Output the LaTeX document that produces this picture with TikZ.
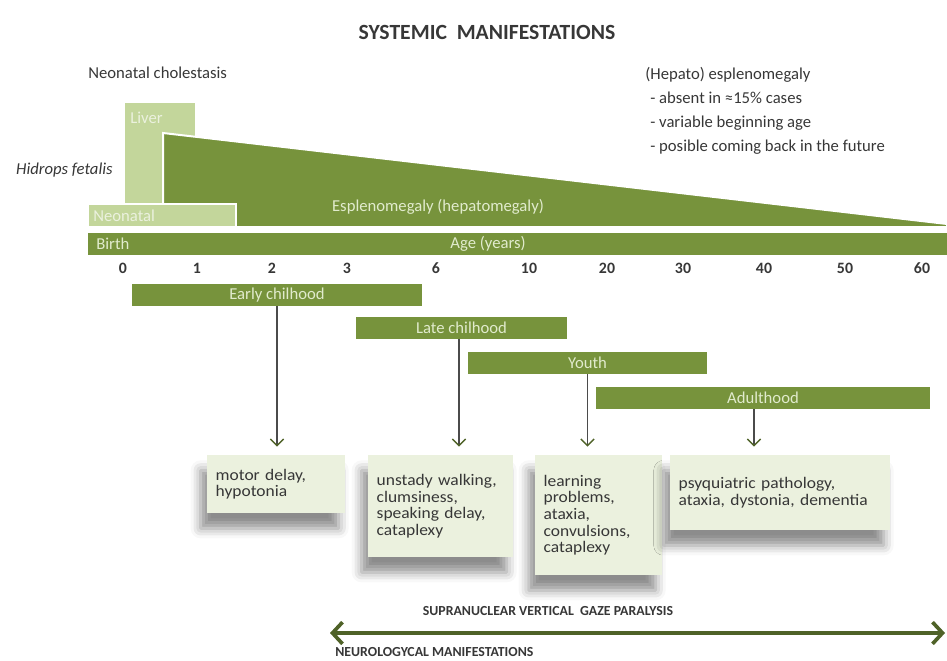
\documentclass[tikz,border=0pt]{standalone}
\usepackage{fontspec}
\setmainfont{Carlito}
\newfontfamily\widefont{Carlito}[FakeStretch=1.08, WordSpace=0.75]
\usetikzlibrary{arrows.meta, positioning, shadows.blur}
\definecolor{olive}{RGB}{119,147,60}
\definecolor{darkolive}{RGB}{79,98,40}
\definecolor{paleolive}{RGB}{195,214,155}
\definecolor{lightolive}{RGB}{235,241,222}
\definecolor{bartext}{RGB}{225,235,205}
\definecolor{txtgray}{RGB}{55,55,55}

\tikzset{
    stagebar/.style={fill=olive, text=bartext, inner sep=0pt, minimum height=13.2pt},
    symptom/.style={fill=lightolive, anchor=north west, align=left, inner xsep=5pt, inner ysep=5pt,
        font=\widefont\fontsize{9.7}{10}\selectfont,
        blur shadow={shadow xshift=-4pt, shadow yshift=-9pt, shadow blur radius=6pt, shadow opacity=45}},
    stagearrow/.style={draw=txtgray!90, line width=0.9pt, -{Straight Barb[length=4pt,width=8pt,color=darkolive]}, shorten >=5pt},
    agelabel/.style={font=\bfseries\fontsize{9.5}{11}\selectfont},
}

\begin{document}
\begin{tikzpicture}[x=0.6pt, y=-0.6pt,
    every node/.append style={text=txtgray, font=\fontsize{10}{12}\selectfont}]
    \useasboundingbox (0,0) rectangle (947,661);

    % Title
    \node[font=\bfseries\fontsize{13}{15}\selectfont] (title) at (487,32) {SYSTEMIC\ \ MANIFESTATIONS};

    % Liver block, spleen wedge and neonatal block
    \fill[paleolive] (125,103) rectangle (195,204);
    \filldraw[fill=olive, draw=white, line width=1.2pt] (163,133) -- (947,224) -- (947,227) -- (163,227) -- cycle;
    \filldraw[fill=paleolive, draw=white, line width=1.2pt] (88,204) rectangle (236,227);
    \node[anchor=west, inner sep=0pt, text=lightolive] (liver) at (130,118) {Liver};
    \node[anchor=west, inner sep=0pt, text=lightolive] (neonatal) at (93,216) {Neonatal};
    \node[text=bartext] (spleen) at (438,207) {Esplenomegaly (hepatomegaly)};

    % Side labels
    \node[anchor=west, inner sep=0pt] (cholestasis) at (88,73) {Neonatal cholestasis};
    \node[anchor=east, inner sep=0pt, font=\itshape\fontsize{10}{12}\selectfont] (hydrops) at (113,170) {Hidrops fetalis};
    \node[anchor=north west, inner sep=0pt, align=left, font=\fontsize{10}{14.4}\selectfont] (hepato) at (645,67)
        {(Hepato) esplenomegaly\\
         \hspace{3pt}- absent in ≈15\% cases\\
         \hspace{3pt}- variable beginning age\\
         \hspace{3pt}- posible coming back in the future};

    % Age axis
    \fill[olive] (88,233) rectangle (947,255);
    \node[anchor=west, inner sep=0pt, text=bartext] (birth) at (96,244) {Birth};
    \node[text=bartext] (age) at (488,244) {Age (years)};
    \foreach \x/\a in {123/0,197/1,272/2,347/3,436/6,529/10,607/20,683/30,764/40,845/50,922/60}
        \node[agelabel] (age\a) at (\x,268) {\a};

    % Life stages
    \node[stagebar, minimum width=174pt] (early) at (277,295) {Early chilhood};
    \node[stagebar, minimum width=126.6pt] (late) at (461.5,328) {Late chilhood};
    \node[stagebar, minimum width=143.4pt] (youth) at (587.5,363) {Youth};
    \node[stagebar, minimum width=200.4pt] (adult) at (763,397.5) {Adulthood};

    % Symptom boxes
    \node[symptom, text width=72.8pt, minimum height=34.8pt] (motor) at (207,455) {motor delay,\\hypotonia};
    \node[symptom, text width=77pt, minimum height=61.2pt] (walking) at (368,455)
        {unstady walking,\\clumsiness,\\speaking delay,\\cataplexy};
    \node[symptom, text width=66.2pt, minimum height=72pt] (learning) at (535,455)
        {learning\\problems,\\ataxia,\\convulsions,\\cataplexy};
    \node[symptom, text width=122pt, minimum height=45pt] (psych) at (670,455)
        {psyquiatric pathology,\\ataxia, dystonia, dementia};

    % Stage arrows
    \draw[stagearrow] (early.south) -- (early.south |- motor.north);
    \draw[stagearrow] ([xshift=-1.5pt]late.south) -- ([xshift=-1.5pt]late.south |- walking.north);
    \draw[stagearrow] (youth.south) -- (youth.south |- learning.north);
    \draw[stagearrow] ([xshift=-5.4pt]adult.south) -- ([xshift=-5.4pt]adult.south |- psych.north);

    % Neurological manifestations
    \node[font=\bfseries\fontsize{8.3}{10}\selectfont] (gaze) at (548,611) {SUPRANUCLEAR VERTICAL\ \ GAZE PARALYSIS};
    \coordinate (gazeL) at (330,633);
    \coordinate (gazeR) at (945,633);
    \draw[darkolive, line width=2.2pt, {Straight Barb[length=6pt,width=13pt]}-{Straight Barb[length=6pt,width=13pt]}] (gazeL) -- (gazeR);
    \node[anchor=west, inner sep=0pt, font=\bfseries\fontsize{8.3}{10}\selectfont] (neuro) at (335,652) {NEUROLOGYCAL MANIFESTATIONS};
\end{tikzpicture}
\end{document}
